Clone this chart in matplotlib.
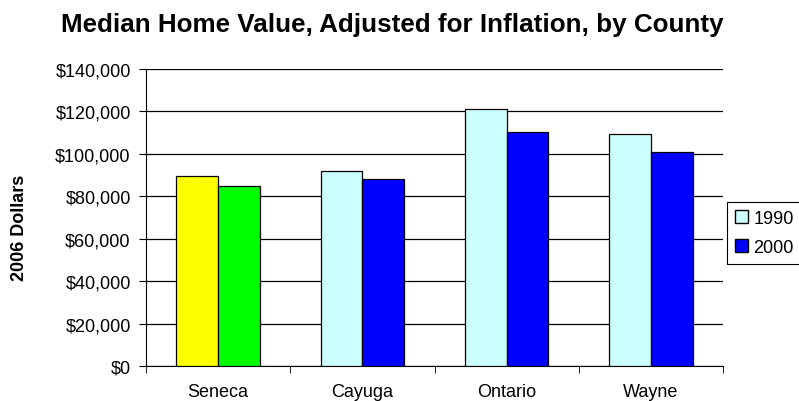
import numpy as np
import matplotlib
matplotlib.use("Agg")
import matplotlib.pyplot as plt
from matplotlib.ticker import FuncFormatter
from matplotlib.patches import Patch

plt.rcParams['font.family'] = ['Liberation Sans', 'DejaVu Sans']

counties = ["Seneca", "Cayuga", "Ontario", "Wayne"]
v1990 = [89400, 92000, 121300, 109500]
v2000 = [85000, 88100, 110100, 100700]
# Seneca is highlighted in its own colours
c1990 = ["#FFFF00", "#CCFFFF", "#CCFFFF", "#CCFFFF"]
c2000 = ["#00FF00", "#0000FF", "#0000FF", "#0000FF"]

fig = plt.figure(figsize=(7.99, 4.02), dpi=100)
ax = fig.add_axes([146/799, 1 - 367/402, (723-146)/799, (367-70)/402])

x = np.arange(len(counties))
w = 0.29
ax.bar(x - w/2, v1990, w, color=c1990, edgecolor="black", linewidth=0.9, zorder=3)
ax.bar(x + w/2, v2000, w, color=c2000, edgecolor="black", linewidth=0.9, zorder=3)

ax.set_xlim(-0.5, len(counties) - 0.5)
ax.set_ylim(0, 140000)
ax.set_yticks(np.arange(0, 140001, 20000))
ax.yaxis.set_major_formatter(FuncFormatter(lambda v, p: "${:,.0f}".format(v)))
ax.grid(axis="y", color="black", linewidth=0.9, zorder=0)

ax.set_xticks(x)
ax.set_xticklabels(counties, fontsize=13)
ax.tick_params(axis="x", length=0, pad=12)
ax.set_xticks(np.arange(-0.5, len(counties)), minor=True)
ax.tick_params(axis="x", which="minor", length=5, direction="out", color="black")
ax.tick_params(axis="y", length=5, direction="out", labelsize=13, pad=6)

for s in ["top", "right"]:
    ax.spines[s].set_visible(False)

fig.text(20/799, 1 - 228/402, "2006 Dollars", rotation=90, ha="center", va="center",
         fontsize=13, fontweight="bold")
fig.text(392/799, 1 - 25/402, "Median Home Value, Adjusted for Inflation, by County",
         ha="center", va="center", fontsize=18.7, fontweight="bold")

handles = [Patch(facecolor="#CCFFFF", edgecolor="black"),
           Patch(facecolor="#0000FF", edgecolor="black")]
leg = fig.legend(handles, ["1990", "2000"], loc="upper left",
                 bbox_to_anchor=(727/799, 1 - 203/402), fontsize=13,
                 fancybox=False, framealpha=1, edgecolor="black",
                 handlelength=0.7, handleheight=0.7, handletextpad=0.3,
                 borderpad=0.45, labelspacing=0.65, borderaxespad=0)
leg.get_frame().set_linewidth(0.8)

fig.savefig("out.png", dpi=100)
